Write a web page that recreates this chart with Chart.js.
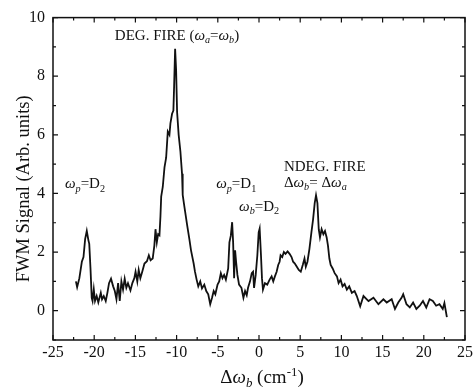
<!DOCTYPE html>
<html>
<head>
<meta charset="utf-8">
<script src="https://cdn.jsdelivr.net/npm/chart.js@4.4.1/dist/chart.umd.min.js"></script>
<style>
  html, body { margin: 0; padding: 0; background: #fff; }
  #wrap { width: 476px; height: 387px; }
</style>
</head>
<body>
<div id="wrap"><canvas id="myChart" width="476" height="387"></canvas></div>
<script>
// detuning (cm^-1) and FWM signal
const shift = [
  -22.22, -22.07, -21.8, -21.5, -21.3, -21.1, -20.9, -20.7, -20.6, -20.45,
  -20.3, -20.2, -20.05, -19.9, -19.7, -19.5, -19.2, -19.05, -18.84, -18.6,
  -18.4, -18.2, -17.96, -17.7, -17.5, -17.3, -17.1, -16.9, -16.7, -16.5,
  -16.3, -16.1, -15.9, -15.6, -15.37, -15.13, -14.98, -14.77, -14.6, -14.4,
  -14.17, -13.9, -13.6, -13.37, -13.16, -12.9, -12.7, -12.56, -12.4, -12.24,
  -12.08, -11.96, -11.87, -11.68, -11.47, -11.27, -11.07, -10.87, -10.75, -10.55,
  -10.39, -10.3, -10.18, -10.06, -9.94, -9.75, -9.54, -9.34, -9.26, -9.06,
  -8.73, -8.45, -8.25, -7.93, -7.77, -7.57, -7.37, -7.13, -6.92, -6.64,
  -6.4, -6.16, -5.92, -5.7, -5.5, -5.3, -5.03, -4.83, -4.63, -4.43,
  -4.23, -4.02, -3.74, -3.59, -3.42, -3.26, -3.14, -3.02, -2.9, -2.78,
  -2.62, -2.42, -2.13, -1.89, -1.69, -1.49, -1.33, -1.09, -0.88, -0.72,
  -0.6, -0.4, -0.2, -0.04, 0.08, 0.24, 0.36, 0.48, 0.72, 1.0,
  1.29, 1.53, 1.73, 1.93, 2.14, 2.33, 2.5, 2.62, 2.82, 3.02,
  3.22, 3.47, 3.71, 3.95, 4.14, 4.35, 4.59, 4.83, 5.07, 5.31,
  5.52, 5.68, 5.88, 6.12, 6.36, 6.56, 6.76, 6.92, 7.09, 7.25,
  7.4, 7.6, 7.81, 8.01, 8.21, 8.37, 8.54, 8.7, 8.94, 9.18,
  9.46, 9.66, 9.9, 10.14, 10.39, 10.66, 10.95, 11.27, 11.6, 11.87,
  12.28, 12.68, 13.29, 13.89, 14.49, 15.1, 15.5, 16.1, 16.5, 16.9,
  17.3, 17.5, 17.9, 18.3, 18.7, 19.1, 19.5, 19.9, 20.3, 20.7,
  21.1, 21.5, 21.9, 22.3, 22.5, 22.8
];
const signal = [
  1.0, 0.8, 1.11, 1.67, 1.83, 2.44, 2.72, 2.4, 2.28, 1.44,
  0.44, 0.33, 0.73, 0.33, 0.5, 0.28, 0.61, 0.39, 0.5, 0.33,
  0.61, 0.94, 1.09, 0.83, 0.67, 0.39, 0.94, 0.33, 1.0, 0.72,
  1.09, 0.78, 0.94, 0.69, 0.94, 1.11, 1.33, 1.0, 1.39, 1.11,
  1.33, 1.61, 1.69, 1.89, 1.72, 1.78, 2.22, 2.78, 2.33, 2.61,
  2.57, 3.22, 3.89, 4.22, 4.89, 5.22, 6.11, 6.0, 6.39, 6.72,
  6.83, 7.67, 8.94, 8.22, 6.78, 6.0, 5.44, 4.67, 3.95, 3.56,
  2.94, 2.44, 2.06, 1.61, 1.33, 1.06, 0.83, 1.0, 0.76, 0.89,
  0.67, 0.56, 0.22, 0.44, 0.67, 0.56, 0.89, 1.0, 1.28, 1.11,
  1.22, 1.06, 1.44, 2.33, 2.56, 3.02, 2.33, 1.11, 2.06, 1.67,
  1.22, 0.89, 0.78, 0.44, 0.67, 0.53, 0.78, 1.0, 1.28, 1.33,
  0.78, 1.22, 1.89, 2.67, 2.8, 1.89, 1.11, 0.72, 0.94, 0.89,
  1.06, 1.17, 1.0, 1.17, 1.33, 1.56, 1.67, 1.89, 1.83, 2.0,
  1.94, 2.02, 1.94, 1.83, 1.67, 1.61, 1.5, 1.39, 1.33, 1.56,
  1.78, 1.5, 1.67, 2.11, 2.67, 3.11, 3.67, 3.94, 3.67, 2.78,
  2.5, 2.78, 2.61, 2.72, 2.5, 2.22, 1.78, 1.56, 1.44, 1.28,
  1.17, 0.94, 1.06, 0.83, 0.91, 0.72, 0.83, 0.61, 0.67, 0.5,
  0.15, 0.5, 0.33, 0.44, 0.22, 0.39, 0.28, 0.39, 0.06, 0.28,
  0.44, 0.56, 0.22, 0.11, 0.28, 0.06, 0.17, 0.33, 0.11, 0.39,
  0.33, 0.17, 0.22, 0.06, 0.26, -0.22
];
const xTickLabels = [-25, -20, -15, -10, -5, 0, 5, 10, 15, 20, 25];
const yTickLabels = [0, 2, 4, 6, 8, 10];

const serif = '"Liberation Serif", "Times New Roman", serif';

// rich text: [text, flags] with i = italic, s = subscript, u = superscript
function drawRich(ctx, parts, x, y, size) {
    parts.forEach((p) => {
        let t = p[0], f = p[1] || '';
        let fs = size, dy = 0;
        if (f.includes('s')) { fs = size * 0.68; dy = size * 0.22; }
        if (f.includes('u')) { fs = size * 0.68; dy = -size * 0.38; }
        ctx.font = (f.includes('i') ? 'italic ' : '') + fs + 'px ' + serif;
        ctx.fillText(t, x, y + dy);
        x += ctx.measureText(t).width;
    });
    return x;
}
function richWidth(ctx, parts, size) {
    let w = 0;
    parts.forEach((p) => {
        let f = p[1] || '';
        let fs = (f.includes('s') || f.includes('u')) ? size * 0.68 : size;
        ctx.font = (f.includes('i') ? 'italic ' : '') + fs + 'px ' + serif;
        w += ctx.measureText(p[0]).width;
    });
    return w;
}

const notes = [
    { x: -17.5, y: 9.23, parts: [['DEG. FIRE ('], ['ω', 'i'], ['a', 'is'], ['='], ['ω', 'i'], ['b', 'is'], [')']] },
    { x: -23.55, y: 4.17, parts: [['ω', 'i'], ['p', 'is'], ['=D'], ['2', 's']] },
    { x: -5.2, y: 4.17, parts: [['ω', 'i'], ['p', 'is'], ['=D'], ['1', 's']] },
    { x: -2.42, y: 3.4, parts: [['ω', 'i'], ['b', 'is'], ['=D'], ['2', 's']] },
    { x: 3.02, y: 4.77, parts: [['NDEG. FIRE']] },
    { x: 3.02, y: 4.23, parts: [['Δ'], ['ω', 'i'], ['b', 'is'], ['= Δ'], ['ω', 'i'], ['a', 'is']] }
];

const framePlugin = {
    id: 'frame',
    afterDraw(chart) {
        const ctx = chart.ctx;
        const a = chart.chartArea;
        const xs = chart.scales.x, ys = chart.scales.y;
        ctx.save();
        ctx.strokeStyle = '#111';
        ctx.lineWidth = 1.5;
        ctx.strokeRect(a.left, a.top, a.right - a.left, a.bottom - a.top);
        // inward ticks on all four sides
        ctx.lineWidth = 1.2;
        ctx.beginPath();
        xs.ticks.forEach((t) => {
            const px = xs.getPixelForValue(t.value);
            const len = xTickLabels.includes(t.value) ? 5 : 3;
            ctx.moveTo(px, a.bottom); ctx.lineTo(px, a.bottom - len);
            ctx.moveTo(px, a.top); ctx.lineTo(px, a.top + len);
        });
        ys.ticks.forEach((t) => {
            const py = ys.getPixelForValue(t.value);
            const len = yTickLabels.includes(t.value) ? 5 : 3;
            ctx.moveTo(a.left, py); ctx.lineTo(a.left + len, py);
            ctx.moveTo(a.right, py); ctx.lineTo(a.right - len, py);
        });
        ctx.stroke();

        ctx.fillStyle = '#111';
        ctx.textBaseline = 'alphabetic';
        ctx.textAlign = 'left';
        notes.forEach((n) => {
            drawRich(ctx, n.parts, xs.getPixelForValue(n.x), ys.getPixelForValue(n.y), 15);
        });

        // x axis title
        const xt = [['Δ'], ['ω', 'i'], ['b', 'is'], [' (cm'], ['-1', 'u'], [')']];
        const w = richWidth(ctx, xt, 19);
        drawRich(ctx, xt, (a.left + a.right) / 2 - w / 2 + 3, 383, 19);

        // y axis title
        ctx.translate(29, (a.top + a.bottom) / 2 + 10);
        ctx.rotate(-Math.PI / 2);
        ctx.font = '18.5px ' + serif;
        ctx.textAlign = 'center';
        ctx.fillText('FWM Signal (Arb. units)', 0, 0);
        ctx.restore();
    }
};

const config = {
    type: 'line',
    data: {
        datasets: [{
            data: shift.map((v, i) => ({ x: v, y: signal[i] })),
            borderColor: '#111',
            borderWidth: 1.8,
            pointRadius: 0,
            tension: 0,
            fill: false
        }]
    },
    options: {
        responsive: false,
        animation: false,
        layout: { padding: { top: 10, right: 9, left: 0, bottom: 0 } },
        plugins: { legend: { display: false }, tooltip: { enabled: false } },
        scales: {
            x: {
                type: 'linear',
                min: -25, max: 25,
                afterFit: (s) => { s.height = 47; },
                afterBuildTicks: (s) => {
                    const t = [];
                    for (let v = -25; v <= 25; v += 2.5) t.push({ value: v });
                    s.ticks = t;
                },
                grid: { display: false, drawTicks: false },
                border: { display: false },
                ticks: {
                    autoSkip: false, maxRotation: 0, padding: 3,
                    color: '#111',
                    font: { family: serif, size: 16 },
                    callback: (v) => xTickLabels.includes(v) ? String(v) : ''
                }
            },
            y: {
                min: -1, max: 10,
                afterFit: (s) => { s.width = 53; },
                afterBuildTicks: (s) => {
                    const t = [];
                    for (let v = -1; v <= 10; v += 1) t.push({ value: v });
                    s.ticks = t;
                },
                grid: { display: false, drawTicks: false },
                border: { display: false },
                ticks: {
                    autoSkip: false, padding: 8,
                    color: '#111',
                    font: { family: serif, size: 16 },
                    callback: (v) => yTickLabels.includes(v) ? String(v) : ''
                }
            }
        }
    },
    plugins: [framePlugin]
};

const myChart = new Chart(document.getElementById('myChart'), config);
</script>
</body>
</html>
